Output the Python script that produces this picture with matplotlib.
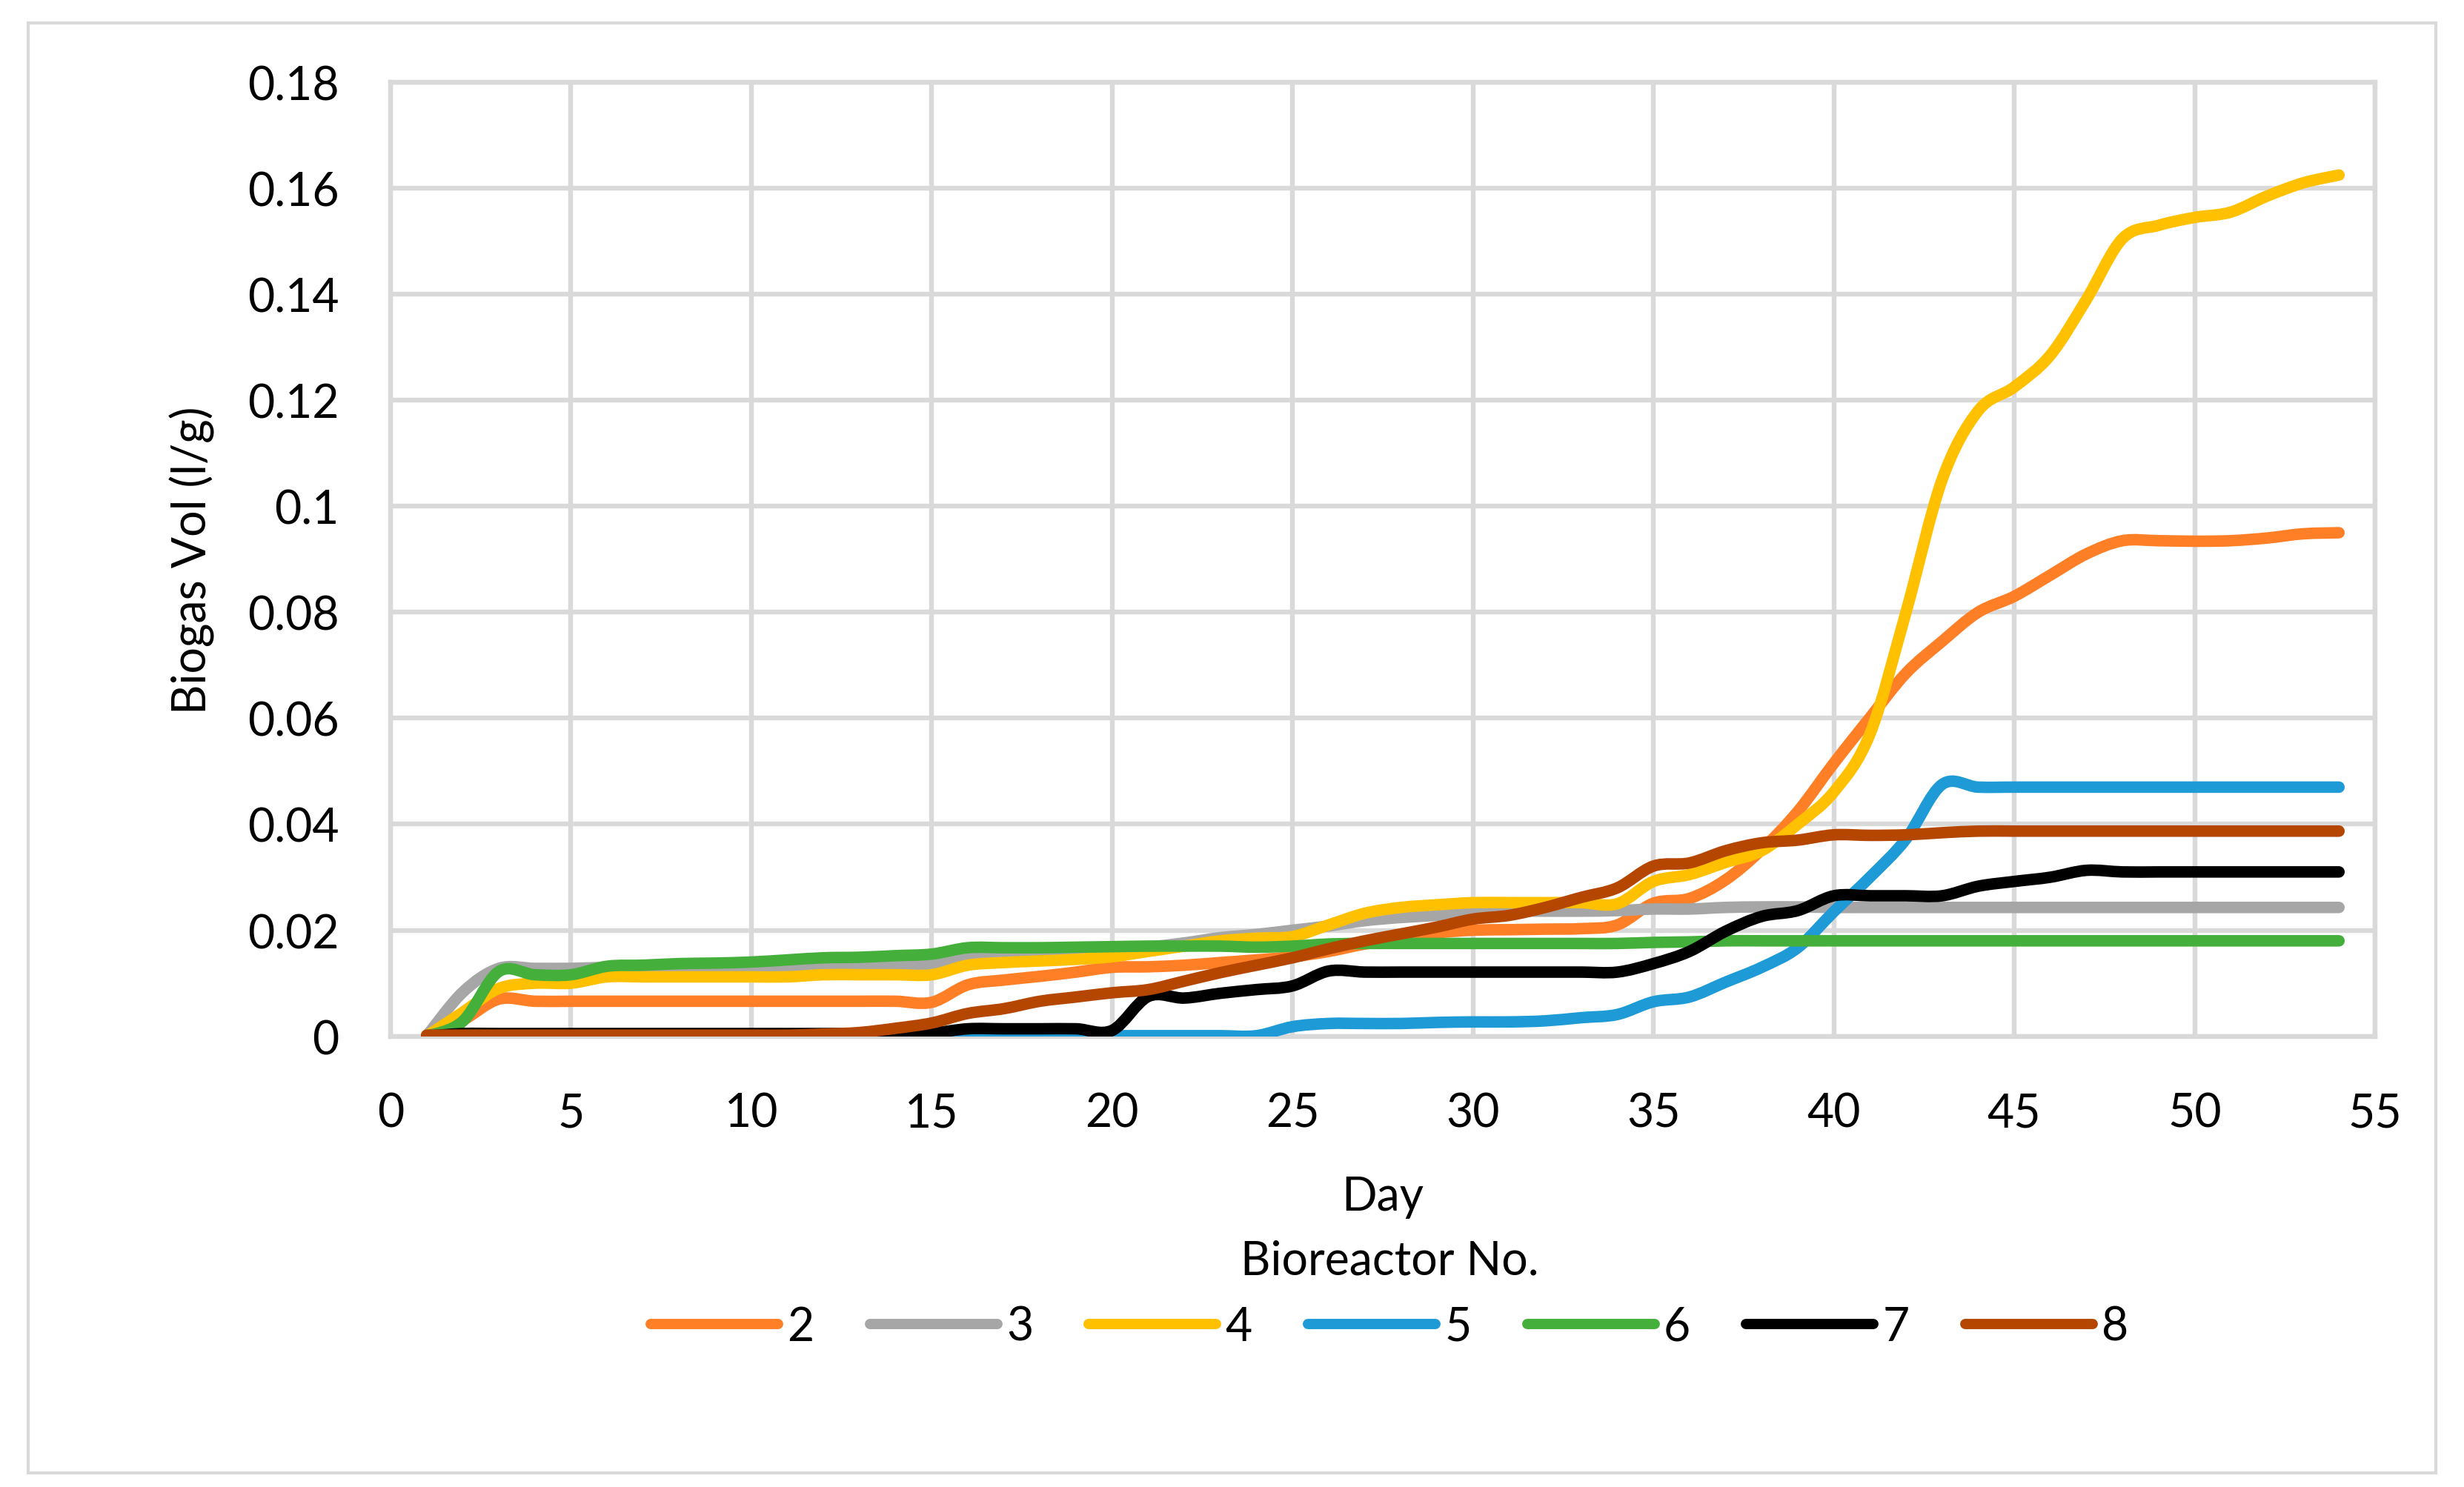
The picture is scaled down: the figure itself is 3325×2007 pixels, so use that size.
import matplotlib
matplotlib.use('Agg')
import numpy as np
import matplotlib.pyplot as plt
from matplotlib.patches import Rectangle, PathPatch
from matplotlib.path import Path

plt.rcParams['font.family'] = ['Lato', 'DejaVu Sans']

# Cumulative biogas volume (l/g) per bioreactor, days 1..54
days = list(range(1, 55))

r2 = [0, 0.0030, 0.0070, 0.0066, 0.0066, 0.0066, 0.0066, 0.0066, 0.0066, 0.0066,
      0.0066, 0.0066, 0.0066, 0.0066, 0.0064, 0.0097, 0.0106, 0.0113, 0.0121, 0.0130,
      0.0131, 0.0134, 0.0139, 0.0144, 0.0150, 0.0160, 0.0174, 0.0184, 0.0195, 0.0200,
      0.0201, 0.0202, 0.0203, 0.0210, 0.0251, 0.0260, 0.0295, 0.0352, 0.0424, 0.0515,
      0.0601, 0.0685, 0.0745, 0.0800, 0.0830, 0.0870, 0.0910, 0.0935, 0.0935, 0.0934,
      0.0935, 0.0940, 0.0948, 0.0950]
r3 = [0, 0.0083, 0.0128, 0.0128, 0.0128, 0.0130, 0.0131, 0.0131, 0.0131, 0.0131,
      0.0131, 0.0133, 0.0134, 0.0135, 0.0136, 0.0151, 0.0153, 0.0155, 0.0158, 0.0162,
      0.0168, 0.0176, 0.0186, 0.0192, 0.0200, 0.0208, 0.0218, 0.0224, 0.0228, 0.0234,
      0.0236, 0.0236, 0.0236, 0.0237, 0.0240, 0.0240, 0.0243, 0.0244, 0.0244, 0.0243,
      0.0243, 0.0243, 0.0243, 0.0243, 0.0243, 0.0243, 0.0243, 0.0243, 0.0243, 0.0243,
      0.0243, 0.0243, 0.0243, 0.0243]
r4 = [0, 0.0045, 0.0090, 0.0100, 0.0100, 0.0112, 0.0112, 0.0112, 0.0112, 0.0112,
      0.0112, 0.0116, 0.0116, 0.0116, 0.0116, 0.0134, 0.0139, 0.0142, 0.0145, 0.0150,
      0.0160, 0.0170, 0.0180, 0.0185, 0.0188, 0.0210, 0.0232, 0.0243, 0.0248, 0.0252,
      0.0252, 0.0252, 0.0252, 0.0250, 0.0292, 0.0305, 0.0328, 0.0350, 0.0400, 0.0461,
      0.0570, 0.0800, 0.1050, 0.1180, 0.1225, 0.1285, 0.1390, 0.1505, 0.1530, 0.1545,
      0.1555, 0.1585, 0.1610, 0.1625]
r5 = [0, 0, 0, 0, 0, 0, 0, 0, 0, 0,
      0, 0, 0, 0, 0, 0.0001, 0.0001, 0.0001, 0.0001, 0.0001,
      0.0001, 0.0001, 0.0001, 0.0001, 0.0018, 0.0024, 0.0024, 0.0024, 0.0026, 0.0027,
      0.0027, 0.0029, 0.0035, 0.0041, 0.0065, 0.0074, 0.0102, 0.0130, 0.0167, 0.0235,
      0.0300, 0.0372, 0.0475, 0.0470, 0.0470, 0.0470, 0.0470, 0.0470, 0.0470, 0.0470,
      0.0470, 0.0470, 0.0470, 0.0470]
r6 = [0, 0.0028, 0.0122, 0.0116, 0.0116, 0.0132, 0.0134, 0.0137, 0.0138, 0.0140,
      0.0144, 0.0148, 0.0149, 0.0152, 0.0155, 0.0167, 0.0167, 0.0167, 0.0168, 0.0169,
      0.0170, 0.0170, 0.0170, 0.0168, 0.0170, 0.0174, 0.0175, 0.0175, 0.0175, 0.0175,
      0.0175, 0.0175, 0.0175, 0.0175, 0.0177, 0.0178, 0.0180, 0.0180, 0.0180, 0.0180,
      0.0180, 0.0180, 0.0180, 0.0180, 0.0180, 0.0180, 0.0180, 0.0180, 0.0180, 0.0180,
      0.0180, 0.0180, 0.0180, 0.0180]
r7 = [0, 0.0005, 0.0005, 0.0005, 0.0005, 0.0005, 0.0005, 0.0005, 0.0005, 0.0005,
      0.0005, 0.0005, 0.0005, 0.0005, 0.0006, 0.0014, 0.0014, 0.0014, 0.0014, 0.0011,
      0.0075, 0.0072, 0.0081, 0.0088, 0.0095, 0.0123, 0.0121, 0.0121, 0.0121, 0.0121,
      0.0121, 0.0121, 0.0121, 0.0121, 0.0137, 0.0160, 0.0198, 0.0226, 0.0237, 0.0265,
      0.0265, 0.0265, 0.0265, 0.0283, 0.0292, 0.0300, 0.0313, 0.0310, 0.0310, 0.0310,
      0.0310, 0.0310, 0.0310, 0.0310]
r8 = [0.0002, 0.0002, 0.0002, 0.0002, 0.0002, 0.0002, 0.0002, 0.0002, 0.0002, 0.0002,
      0.0002, 0.0004, 0.0007, 0.0015, 0.0025, 0.0043, 0.0052, 0.0066, 0.0074, 0.0082,
      0.0088, 0.0104, 0.0120, 0.0134, 0.0148, 0.0165, 0.0180, 0.0193, 0.0206, 0.0221,
      0.0228, 0.0243, 0.0262, 0.0280, 0.0321, 0.0327, 0.0350, 0.0365, 0.0370, 0.0380,
      0.0379, 0.0380, 0.0384, 0.0387, 0.0387, 0.0387, 0.0387, 0.0387, 0.0387, 0.0387,
      0.0387, 0.0387, 0.0387, 0.0387]

series = [r2, r3, r4, r5, r6, r7, r8]
names = ['2', '3', '4', '5', '6', '7', '8']
colors = ['#FF7F27', '#A6A6A6', '#FFC000', '#1E9BD7', '#45AF3C', '#000000', '#B44600']

x_ticks = [0, 5, 10, 15, 20, 25, 30, 35, 40, 45, 50, 55]
y_ticks = [0, 0.02, 0.04, 0.06, 0.08, 0.1, 0.12, 0.14, 0.16, 0.18]
y_tick_labels = ['0', '0.02', '0.04', '0.06', '0.08', '0.1', '0.12', '0.14', '0.16', '0.18']

grid_c = '#D9D9D9'
fs = 22.5
lw = 5.6


def smooth_path(xs, ys):
    # Excel-style "smoothed line": cubic Bezier through every data point
    p = np.column_stack([xs, ys]).astype(float)
    n = len(p)
    verts = [p[0]]
    codes = [Path.MOVETO]
    for i in range(n - 1):
        prev = p[i - 1] if i > 0 else p[i]
        nxt = p[i + 2] if i + 2 < n else p[i + 1]
        c1 = p[i] + (p[i + 1] - prev) / 6.0
        c2 = p[i + 1] - (nxt - p[i]) / 6.0
        verts += [c1, c2, p[i + 1]]
        codes += [Path.CURVE4] * 3
    return Path(verts, codes)


fig = plt.figure(figsize=(16.625, 10.04), dpi=200)
ax = fig.add_axes([0.1585, 0.3030, 0.8054, 0.6412])

for vals, name, c in zip(series, names, colors):
    ax.add_patch(PathPatch(smooth_path(days, vals), facecolor='none', edgecolor=c,
                           lw=lw, joinstyle='round', capstyle='round', zorder=3))
    ax.plot([], [], color=c, lw=5.0, label=name, solid_capstyle='round')

ax.set_xlim(0, 55)
ax.set_ylim(0, 0.18)
ax.set_xticks(x_ticks)
ax.set_yticks(y_ticks)
ax.set_yticklabels(y_tick_labels)
ax.tick_params(length=0, labelsize=fs, colors='black')
ax.tick_params(axis='y', pad=25)
ax.tick_params(axis='x', pad=27)
ax.grid(True, color=grid_c, lw=2.3, zorder=0)
ax.set_axisbelow(True)
for sp in ax.spines.values():
    sp.set_color(grid_c)
    sp.set_linewidth(2.3)

ax.set_xlabel('Day', fontsize=fs)
ax.xaxis.set_label_coords(0.5, -0.168)
ax.xaxis.label.set_va('center')
ax.set_ylabel('Biogas Vol (l/g)', fontsize=fs)
ax.yaxis.set_label_coords(-0.100, 0.5)
ax.yaxis.label.set_va('center')

leg = ax.legend(loc='center', bbox_to_anchor=(0.564, 0.130),
                bbox_transform=fig.transFigure, ncol=7, frameon=False,
                title='Bioreactor No.', fontsize=fs, title_fontsize=fs,
                handlelength=2.75, handletextpad=0.2, columnspacing=1.2)

# chart area border
fig.patches.append(Rectangle((38 / 3325, 1 - 1989 / 2008), (3287 - 38) / 3325,
                             (1989 - 32) / 2008, transform=fig.transFigure,
                             fill=False, edgecolor=grid_c, lw=1.5))

fig.savefig('out.png', dpi=200, facecolor='white')
plt.close(fig)
